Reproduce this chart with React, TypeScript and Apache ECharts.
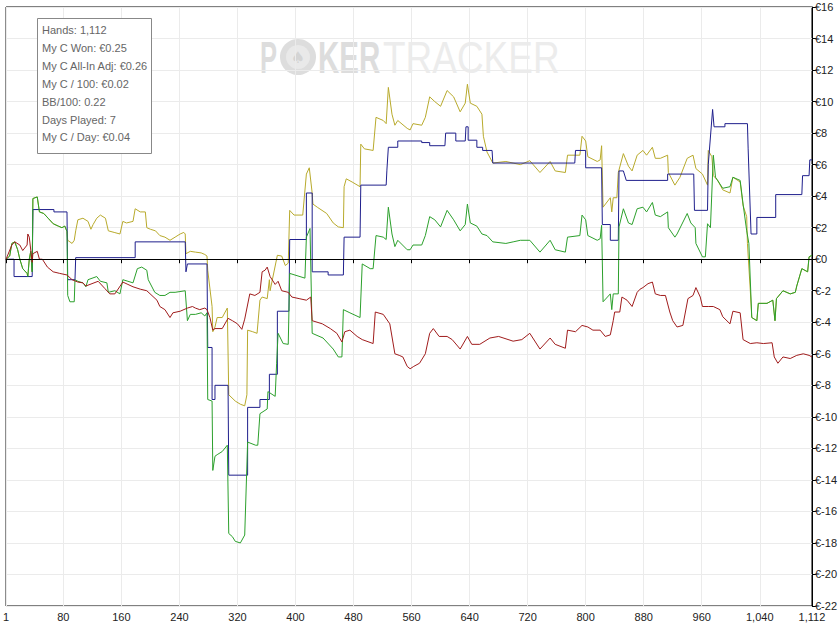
import React, { useEffect, useRef } from "react";
import * as echarts from "echarts";

const xTickValues = [1, 80, 160, 240, 320, 400, 480, 560, 640, 720, 800, 880, 960, 1040, 1112];
const xMin = 1;
const xMax = 1112;
const yMin = -22;
const yMax = 16;
const yStep = 2;

const statLines = [
  "Hands: 1,112",
  "My C Won: €0.25",
  "My C All-In Adj: €0.26",
  "My C / 100: €0.02",
  "BB/100: 0.22",
  "Days Played: 7",
  "My C / Day: €0.04",
];

const yellowData: [number, number][] = [
  [1, 0], [6, 0.2], [9, 1.0], [13, 1.1], [17, 0.6], [20, 0.0], [24, -0.6], [30, -0.9], [31, -1.1], [33, 0.0],
  [35, 0.5], [37, -0.8], [38, 3.85], [44, 3.95], [47, 3.0], [53, 2.9], [59, 2.6], [66, 2.25], [73, 2.1], [78, 2.0],
  [82, 2.1], [85, 1.75], [86, 1.2], [92, 1.0], [95, 1.2], [97, 1.8], [100, 2.5], [107, 2.6], [114, 2.4], [118, 1.9],
  [121, 2.2], [126, 2.6], [131, 2.8], [138, 2.6], [142, 1.8], [150, 1.7], [158, 1.6], [162, 2.4], [167, 2.3], [176, 2.4],
  [179, 3.2], [186, 3.0], [193, 3.0], [195, 2.0], [200, 1.9], [207, 1.8], [213, 1.5], [220, 1.4], [227, 1.2], [234, 1.4],
  [241, 1.6], [246, 1.7], [248, 1.6], [249, 0.35], [255, 0.5], [262, 0.45], [270, 0.4], [275, 0.3], [278, 0.2], [279, -0.7],
  [285, -3.0], [286, -4.6], [289, -4.3], [292, -3.7], [299, -3.7], [306, -3.1], [308, -8.6], [317, -9.0], [324, -9.2], [330, -9.3],
  [333, -8.6], [334, -4.5], [341, -4.6], [347, -4.7], [351, -2.6], [354, -2.4], [361, -2.5], [364, -1.3], [365, -2.0], [375, 0.25],
  [381, 0.2], [386, -0.4], [390, -0.25], [392, 3.1], [398, 2.8], [410, 2.8], [415, 5.4], [419, 5.8], [423, 4.2], [424, 3.5],
  [430, 3.3], [443, 2.9], [452, 2.3], [459, 2.05], [466, 2.0], [467, 4.6], [470, 5.1], [478, 4.9], [489, 4.6], [490, 7.3],
  [495, 7.0], [507, 6.9], [511, 9.0], [521, 8.8], [525, 8.6], [528, 10.9], [533, 9.2], [537, 8.5], [541, 8.8], [554, 8.3],
  [558, 8.2], [562, 8.6], [574, 8.5], [579, 9.0], [585, 10.3], [592, 10.0], [600, 9.7], [609, 10.7], [618, 10.3], [627, 9.35],
  [634, 9.9], [637, 11.1], [641, 9.9], [650, 9.7], [657, 9.2], [659, 7.8], [664, 6.8], [672, 6.1], [690, 6.2], [700, 6.1],
  [710, 6.0], [723, 6.25], [737, 5.5], [751, 6.2], [758, 5.6], [772, 5.5], [775, 6.6], [792, 6.6], [795, 7.8], [800, 7.5],
  [803, 6.5], [816, 6.2], [820, 6.3], [822, 7.2], [824, 3.3], [834, 3.9], [836, 3.0], [838, 3.9], [843, 3.9], [845, 5.5],
  [852, 6.7], [859, 5.9], [864, 5.6], [871, 6.6], [879, 6.9], [884, 6.6], [892, 7.1], [896, 6.4], [903, 6.4], [913, 6.6],
  [914, 5.5], [923, 4.7], [930, 5.2], [940, 6.4], [948, 6.6], [952, 5.75], [961, 5.4], [968, 4.7], [969, 6.9], [974, 6.5],
  [976, 5.3], [982, 5.0], [989, 4.4], [999, 4.2], [1003, 5.2], [1013, 4.9], [1017, 3.4], [1022, 2.7], [1023, 1.0], [1027, -2.0],
  [1029, -3.7], [1036, -3.9], [1038, -2.8], [1050, -2.8], [1058, -2.6], [1061, -3.9], [1063, -2.5], [1072, -2.0], [1082, -2.2], [1089, -2.1],
  [1091, -1.7], [1098, -0.6], [1106, -0.8], [1108, 0.15], [1112, 0.25],
];

const blueData: [number, number][] = [
  [1, 0], [12, 0], [12, -1.1], [37, -1.1], [38, 3.15], [67, 3.15], [67, 3.0], [85, 3.0], [86, -1.3], [96, -1.3],
  [97, 0.1], [179, 0.1], [179, 1.1], [248, 1.1], [249, -0.8], [251, -0.3], [278, -0.3], [279, -5.6], [285, -5.6], [285, -8.9],
  [289, -8.9], [289, -8.0], [307, -8.0], [308, -13.7], [334, -13.7], [334, -9.4], [351, -9.4], [351, -8.9], [364, -8.9], [364, -7.3],
  [375, -7.3], [375, -3.3], [391, -3.3], [392, 1.25], [415, 1.25], [415, 4.2], [423, 4.2], [423, -0.8], [445, -0.8], [445, -1.0],
  [466, -1.0], [467, 1.4], [489, 1.4], [490, 4.7], [525, 4.7], [526, 5.65], [528, 7.1], [541, 7.1], [541, 7.5], [574, 7.5],
  [574, 7.4], [585, 7.4], [585, 7.2], [606, 7.2], [607, 8.0], [621, 8.0], [621, 7.5], [634, 7.5], [635, 8.4], [638, 8.4],
  [638, 7.55], [650, 7.55], [650, 7.1], [658, 7.1], [658, 6.9], [671, 6.9], [672, 6.1], [785, 6.1], [786, 6.9], [800, 6.9],
  [800, 5.8], [822, 5.8], [823, 2.2], [834, 2.2], [834, 1.2], [845, 1.2], [846, 5.6], [852, 5.6], [856, 5.0], [913, 5.0],
  [913, 5.4], [949, 5.4], [950, 3.1], [968, 3.1], [969, 6.0], [975, 9.5], [977, 8.4], [992, 8.4], [992, 8.6], [1023, 8.6],
  [1024, 7.0], [1028, 1.6], [1036, 1.6], [1036, 2.65], [1062, 2.65], [1062, 4.1], [1098, 4.1], [1099, 5.3], [1108, 5.3], [1109, 6.3],
  [1112, 6.3],
];

const greenData: [number, number][] = [
  [1, 0], [6, 0.2], [9, 1.0], [13, 1.1], [17, 0.6], [20, 0.0], [24, -0.6], [30, -0.9], [31, -1.1], [33, 0.0],
  [35, 0.5], [37, -0.8], [38, 3.85], [44, 3.95], [47, 3.0], [53, 2.9], [59, 2.6], [66, 2.25], [73, 2.1], [78, 2.0],
  [82, 2.1], [85, 1.75], [86, -2.3], [89, -2.7], [95, -2.7], [96, -1.3], [100, -1.4], [107, -1.5], [111, -1.75], [114, -1.3],
  [126, -1.1], [131, -1.4], [140, -1.5], [142, -2.1], [151, -2.0], [158, -2.2], [162, -1.3], [169, -1.4], [176, -1.5], [182, -0.6],
  [188, -0.5], [195, -0.7], [197, -1.3], [206, -2.1], [213, -2.3], [220, -2.3], [227, -2.1], [234, -2.1], [248, -2.0], [251, -3.9],
  [255, -3.5], [262, -3.5], [270, -3.4], [275, -3.6], [278, -3.4], [279, -8.9], [285, -9.0], [286, -13.4], [289, -12.5], [292, -12.4],
  [299, -12.2], [306, -11.8], [308, -17.4], [313, -17.6], [317, -17.9], [324, -18.0], [330, -17.5], [334, -11.6], [345, -11.8], [348, -11.8],
  [351, -9.8], [361, -9.5], [362, -8.4], [372, -8.7], [374, -6.6], [376, -4.7], [383, -5.35], [390, -5.4], [392, -0.9], [413, -1.2],
  [415, 1.4], [420, 1.95], [423, -4.7], [438, -5.0], [452, -5.7], [459, -6.2], [464, -6.2], [466, -3.2], [475, -3.4], [489, -3.7],
  [492, -0.3], [503, -0.6], [507, -0.6], [511, 1.5], [521, 1.4], [525, 1.25], [528, 3.3], [533, 1.6], [537, 0.8], [541, 1.2],
  [554, 0.6], [558, 0.6], [562, 0.9], [574, 0.9], [579, 1.5], [585, 2.7], [592, 2.5], [600, 2.05], [609, 3.1], [618, 2.5],
  [627, 1.8], [634, 2.2], [637, 3.5], [641, 2.3], [650, 2.1], [657, 1.6], [664, 1.5], [672, 1.1], [690, 1.0], [700, 1.1],
  [710, 1.2], [723, 1.2], [737, 0.45], [751, 1.2], [758, 0.6], [772, 0.45], [775, 1.4], [792, 1.5], [795, 2.8], [800, 2.5],
  [803, 1.5], [816, 1.2], [820, 1.3], [822, 2.15], [824, -2.7], [834, -2.2], [836, -3.2], [838, -2.2], [845, -2.2], [846, 2.05],
  [852, 3.2], [859, 2.3], [864, 2.2], [871, 3.2], [879, 3.3], [884, 3.0], [892, 3.6], [896, 2.8], [903, 2.7], [913, 3.0],
  [914, 2.0], [923, 1.4], [926, 1.6], [940, 2.9], [945, 2.3], [951, 2.0], [952, 1.0], [961, 0.15], [965, 0.15], [968, 2.25],
  [972, 2.0], [976, 6.6], [979, 5.2], [989, 4.5], [999, 4.6], [1003, 5.2], [1013, 5.0], [1017, 3.5], [1022, 1.8], [1025, 1.0],
  [1029, -3.7], [1036, -3.9], [1038, -2.8], [1050, -2.8], [1058, -2.6], [1061, -3.9], [1063, -2.5], [1072, -2.0], [1082, -2.2], [1089, -2.1],
  [1091, -1.7], [1098, -0.6], [1106, -0.8], [1108, 0.15], [1112, 0.25],
];

const redData: [number, number][] = [
  [1, 0], [9, 0.9], [13, 1.1], [20, 0.9], [24, 0.55], [30, 0.9], [31, 1.6], [33, 1.4], [37, -0.2], [38, 0.35],
  [44, 0.5], [47, 0.0], [51, 0.0], [58, -0.5], [66, -0.8], [75, -0.9], [85, -1.0], [92, -1.3], [100, -1.45], [107, -1.5],
  [111, -1.7], [128, -1.4], [137, -1.85], [144, -2.2], [151, -2.2], [162, -1.45], [169, -1.6], [176, -1.75], [186, -1.9], [195, -2.0],
  [209, -2.6], [213, -3.0], [220, -3.2], [227, -3.7], [231, -3.4], [241, -3.3], [251, -3.1], [258, -3.0], [262, -3.1], [268, -3.2],
  [275, -3.1], [278, -3.2], [282, -3.7], [286, -4.5], [289, -4.4], [299, -4.4], [307, -3.75], [313, -3.9], [320, -4.1], [326, -4.45],
  [330, -3.8], [337, -2.2], [344, -2.3], [351, -2.1], [354, -0.8], [358, -0.7], [361, -0.5], [365, -1.1], [372, -1.6], [376, -1.4],
  [381, -2.0], [390, -2.1], [395, -2.4], [405, -2.5], [415, -2.6], [421, -2.4], [423, -3.9], [437, -4.1], [448, -4.4], [457, -4.7],
  [464, -5.25], [468, -4.6], [475, -4.5], [485, -4.9], [492, -5.1], [507, -5.35], [510, -3.35], [521, -3.5], [530, -4.1], [537, -6.0],
  [543, -6.1], [548, -6.2], [554, -6.8], [558, -6.95], [563, -6.8], [571, -6.6], [579, -6.0], [585, -4.7], [590, -4.4], [598, -4.9],
  [609, -4.9], [616, -5.1], [627, -5.7], [637, -4.9], [643, -5.4], [654, -5.4], [668, -5.0], [680, -4.9], [700, -5.2], [712, -5.1],
  [723, -4.7], [737, -5.7], [751, -5.0], [758, -5.4], [772, -5.65], [775, -4.5], [786, -4.6], [795, -4.2], [803, -4.3], [810, -4.5],
  [820, -4.5], [827, -4.9], [834, -4.8], [838, -3.9], [840, -3.35], [847, -3.35], [850, -2.4], [857, -2.6], [864, -3.0], [871, -2.1],
  [875, -1.9], [879, -1.8], [886, -1.55], [892, -1.45], [896, -2.2], [903, -2.3], [910, -2.3], [916, -3.35], [920, -3.9], [926, -4.3],
  [934, -4.2], [941, -2.5], [948, -2.3], [952, -1.8], [958, -2.4], [961, -3.0], [969, -3.0], [976, -3.0], [985, -3.2], [989, -3.65],
  [999, -4.1], [1003, -3.3], [1013, -3.4], [1017, -5.1], [1027, -5.35], [1036, -5.3], [1045, -5.35], [1057, -5.3], [1060, -6.2], [1065, -6.6],
  [1072, -6.2], [1082, -6.3], [1091, -6.1], [1100, -6.0], [1108, -6.1], [1112, -6.2],
];

const FONT = '"Liberation Sans", Arial, sans-serif';

function fmtHand(v: number): string {
  return v.toLocaleString("en-US");
}

export default function App() {
  const ref = useRef<HTMLDivElement>(null);

  useEffect(() => {
    const chart = echarts.init(ref.current!, null, { renderer: "svg" });

    const infoTexts = statLines.map((t, i) => ({
      type: "text",
      x: 42,
      y: 30 + i * 17.9,
      z: 101,
      silent: true,
      style: {
        text: t,
        fill: "#666",
        font: `11px ${FONT}`,
        verticalAlign: "middle",
        textVerticalAlign: "middle",
      },
    }));

    const lineSeries = (name: string, data: [number, number][], color: string, extra: any = {}) => ({
      name,
      type: "line",
      data,
      showSymbol: false,
      symbol: "none",
      lineStyle: { color, width: 1 },
      itemStyle: { color },
      silent: true,
      ...extra,
    });

    const wm = (el: any) => ({ ...el, z: -10, silent: true });

    chart.setOption({
      animation: false,
      backgroundColor: "#fff",
      grid: {
        left: 6,
        right: 28,
        top: 7,
        bottom: 21,
        show: true,
        borderColor: "#000",
        borderWidth: 1,
      },
      xAxis: {
        type: "value",
        min: xMin,
        max: xMax,
        axisLine: { show: true, lineStyle: { color: "#000", width: 1 } },
        axisTick: { show: true, length: 4, customValues: xTickValues, lineStyle: { color: "#000" } },
        axisLabel: {
          customValues: xTickValues,
          formatter: (v: number) => fmtHand(v),
          color: "#222",
          fontSize: 11,
          fontFamily: FONT,
          margin: 5,
        },
        splitLine: { show: true, lineStyle: { color: "#ebebeb", width: 1 } },
      },
      yAxis: {
        type: "value",
        position: "right",
        min: yMin,
        max: yMax,
        interval: yStep,
        axisLine: { show: true, lineStyle: { color: "#000", width: 1 } },
        axisTick: { show: true, length: 4, lineStyle: { color: "#000" } },
        axisLabel: {
          formatter: (v: number) => "€" + v,
          color: "#222",
          fontSize: 11,
          fontFamily: FONT,
          margin: 3,
        },
        splitLine: { show: true, lineStyle: { color: "#ebebeb", width: 1 } },
      },
      graphic: [
        wm({
          type: "text",
          x: 260,
          y: 57.5,
          scaleX: 0.58,
          style: { text: "P", font: `bold 44px ${FONT}`, fill: "#dddddd", verticalAlign: "middle", textVerticalAlign: "middle" },
        }),
        wm({ type: "circle", shape: { cx: 298, cy: 57, r: 18 }, style: { fill: "#dddddd" } }),
        wm({ type: "circle", shape: { cx: 298, cy: 57, r: 12 }, style: { fill: "#e9e9e9" } }),
        wm({
          type: "text",
          x: 298,
          y: 57,
          style: { text: "♠", font: `16px "DejaVu Sans"`, fill: "#d4d4d4", align: "center", textAlign: "center", verticalAlign: "middle", textVerticalAlign: "middle" },
        }),
        wm({
          type: "text",
          x: 318,
          y: 57.5,
          scaleX: 0.67,
          style: { text: "KER", font: `bold 44px ${FONT}`, fill: "#dddddd", verticalAlign: "middle", textVerticalAlign: "middle" },
        }),
        wm({
          type: "text",
          x: 383,
          y: 57.5,
          scaleX: 0.84,
          style: { text: "TRACKER", font: `44px ${FONT}`, fill: "#ececec", verticalAlign: "middle", textVerticalAlign: "middle" },
        }),
        {
          type: "rect",
          z: 100,
          silent: true,
          shape: { x: 37.5, y: 18.5, width: 114, height: 135 },
          style: { fill: "#fff", stroke: "#888", lineWidth: 1 },
        },
        ...infoTexts,
      ],
      series: [
        lineSeries("All-In Adj", yellowData, "#b8aa2c", {
          markLine: {
            silent: true,
            symbol: ["none", "none"],
            label: { show: false },
            lineStyle: { color: "#000", type: "solid", width: 1 },
            data: [{ yAxis: 0 }],
          },
        }),
        lineSeries("Won", blueData, "#1f1f8c"),
        lineSeries("Green", greenData, "#2ca02c"),
        lineSeries("Red", redData, "#a01c1c"),
      ],
    });

    return () => chart.dispose();
  }, []);

  return (
    <div
      ref={ref}
      style={{ position: "fixed", left: 0, top: 0, width: 840, height: 627, background: "#fff" }}
    />
  );
}
